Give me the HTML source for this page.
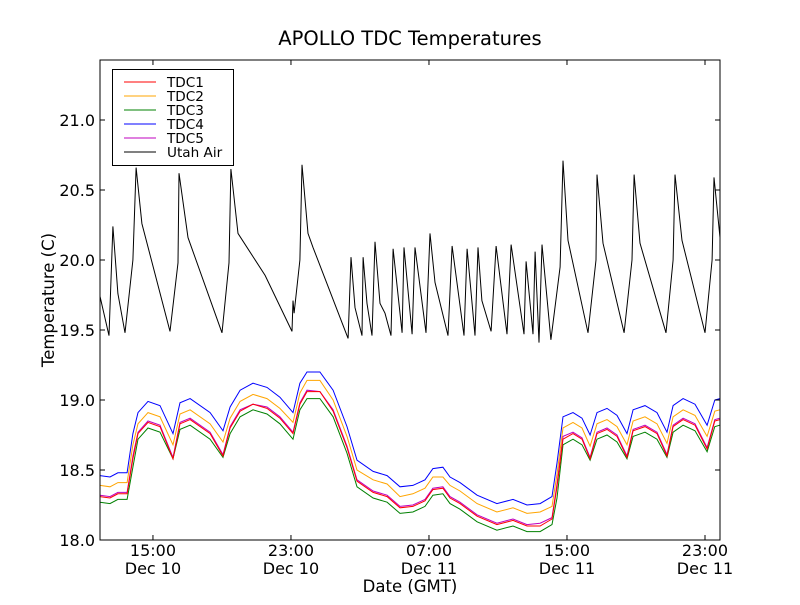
<!DOCTYPE html>
<html><head><meta charset="utf-8"><style>
body{margin:0;background:#fff;}
svg text{font-family:"DejaVu Sans","Liberation Sans",sans-serif;}
</style></head><body>
<svg id="chart" width="800" height="600" xmlns="http://www.w3.org/2000/svg">
<rect width="800" height="600" fill="#fff"/>
<text x="410" y="45" font-size="19.5" text-anchor="middle">APOLLO TDC Temperatures</text>
<text x="54" y="300" font-size="16.5" text-anchor="middle" transform="rotate(-90 54 300)">Temperature (C)</text>
<text x="410" y="592" font-size="16.5" text-anchor="middle">Date (GMT)</text>
<g id="plot"></g>
<g id="axes"></g>
<g id="legend"></g>
</svg>
<script>
const xTicks=[15,23,31,39,47];
const xTickTime=["15:00","23:00","07:00","15:00","23:00"];
const xTickDate=["Dec 10","Dec 10","Dec 11","Dec 11","Dec 11"];
const yTicks=[18.0,18.5,19.0,19.5,20.0,20.5,21.0];
const tdcTimes=[11.93,12.51,12.97,13.50,13.84,14.13,14.71,15.41,16.16,16.57,17.15,18.31,19.06,19.47,20.05,20.80,21.61,22.36,23.12,23.52,23.93,24.68,25.44,26.25,26.83,27.76,28.57,29.32,30.07,30.77,31.23,31.81,32.22,32.80,33.79,34.94,35.87,36.68,37.44,38.13,38.42,38.77,39.35,39.87,40.34,40.74,41.32,41.90,42.48,42.83,43.52,44.22,44.80,45.15,45.73,46.42,47.12,47.57,47.86];
const tdc4=[18.46,18.45,18.48,18.48,18.76,18.91,18.99,18.96,18.76,18.98,19.01,18.91,18.78,18.95,19.07,19.12,19.09,19.02,18.91,19.12,19.20,19.20,19.07,18.81,18.57,18.49,18.46,18.38,18.39,18.43,18.51,18.52,18.45,18.41,18.32,18.26,18.29,18.25,18.26,18.31,18.55,18.88,18.91,18.87,18.75,18.91,18.94,18.89,18.76,18.93,18.96,18.91,18.77,18.96,19.01,18.97,18.82,19.00,19.01];
const tdc2=[18.39,18.38,18.41,18.41,18.68,18.83,18.91,18.88,18.68,18.90,18.93,18.83,18.70,18.87,18.99,19.04,19.01,18.94,18.84,19.05,19.14,19.14,19.00,18.74,18.50,18.43,18.40,18.31,18.33,18.37,18.45,18.45,18.39,18.35,18.26,18.20,18.23,18.19,18.20,18.24,18.47,18.80,18.84,18.80,18.67,18.83,18.86,18.81,18.68,18.85,18.88,18.83,18.69,18.88,18.93,18.89,18.74,18.92,18.93];
const tdc1=[18.31,18.30,18.33,18.33,18.58,18.76,18.84,18.81,18.58,18.83,18.86,18.76,18.60,18.80,18.92,18.97,18.94,18.87,18.76,18.97,19.06,19.06,18.92,18.66,18.42,18.34,18.31,18.23,18.24,18.28,18.36,18.37,18.30,18.26,18.17,18.11,18.14,18.10,18.10,18.15,18.38,18.72,18.76,18.72,18.58,18.76,18.79,18.74,18.59,18.78,18.81,18.76,18.60,18.81,18.86,18.82,18.65,18.85,18.86];
const tdc5=[18.32,18.31,18.34,18.34,18.60,18.77,18.85,18.82,18.59,18.84,18.87,18.77,18.61,18.81,18.93,18.97,18.95,18.88,18.77,18.98,19.07,19.06,18.93,18.67,18.43,18.35,18.32,18.24,18.25,18.29,18.37,18.38,18.31,18.27,18.18,18.12,18.15,18.11,18.12,18.16,18.40,18.74,18.77,18.73,18.59,18.77,18.80,18.75,18.60,18.79,18.82,18.77,18.61,18.82,18.87,18.83,18.66,18.86,18.87];
const tdc3=[18.27,18.26,18.29,18.29,18.52,18.72,18.80,18.77,18.58,18.79,18.82,18.72,18.59,18.76,18.88,18.93,18.90,18.83,18.72,18.93,19.01,19.01,18.88,18.62,18.38,18.30,18.27,18.19,18.20,18.24,18.32,18.33,18.26,18.22,18.13,18.07,18.10,18.06,18.06,18.11,18.30,18.68,18.72,18.68,18.57,18.72,18.75,18.70,18.58,18.74,18.77,18.72,18.59,18.77,18.82,18.78,18.63,18.81,18.82];
const airTimes=[11.93,12.45,12.68,12.97,13.38,13.84,14.02,14.36,15.99,16.45,16.51,17.03,19.00,19.41,19.52,19.93,21.50,23.06,23.12,23.18,23.52,23.64,23.99,24.28,26.31,26.48,26.71,27.12,27.18,27.41,27.70,27.87,28.16,28.45,28.80,28.92,29.44,29.55,30.02,30.19,30.83,31.06,31.35,32.10,32.34,33.03,33.21,33.67,33.84,34.07,34.60,34.89,35.52,35.76,36.51,36.63,37.03,37.15,37.38,37.55,38.07,38.60,38.77,39.06,40.22,40.68,40.74,41.09,42.31,42.77,42.89,43.23,44.74,45.15,45.26,45.67,47.00,47.41,47.52,47.87];
const airTemps=[19.74,19.46,20.24,19.76,19.48,20.00,20.66,20.26,19.49,19.98,20.62,20.16,19.48,19.98,20.65,20.19,19.89,19.49,19.71,19.62,20.00,20.68,20.19,20.09,19.44,20.02,19.66,19.46,20.02,19.69,19.46,20.13,19.69,19.62,19.46,20.08,19.48,20.09,19.47,20.09,19.48,20.19,19.84,19.46,20.10,19.46,20.08,19.46,20.09,19.71,19.49,20.10,19.47,20.11,19.47,19.99,19.47,20.06,19.41,20.11,19.43,19.95,20.71,20.14,19.48,20.00,20.61,20.12,19.48,20.00,20.61,20.12,19.48,20.00,20.61,20.14,19.48,20.00,20.59,20.16];

const L=100,R=720,T=60,B=540,xMin=11.93,xMax=47.87,yMin=18,yMax=21.4286;
function xs(v){return L+(v-xMin)/(xMax-xMin)*(R-L);}
function ys(v){return B-(v-yMin)/(yMax-yMin)*(B-T);}
const NS="http://www.w3.org/2000/svg";
const plot=document.getElementById('plot'),axes=document.getElementById('axes'),leg=document.getElementById('legend');
function mk(tag,attrs,parent){const e=document.createElementNS(NS,tag);for(const k in attrs)e.setAttribute(k,attrs[k]);parent.appendChild(e);return e;}
function line(times,vals,color,name){
  const d=times.map((t,i)=>(i?'L':'M')+xs(t).toFixed(1)+' '+ys(vals[i]).toFixed(1)).join(' ');
  const p=mk('path',{d:d,fill:'none',stroke:color,'stroke-width':1},plot);
  
  
}
line(airTimes,airTemps,'#000','series-utah-air');
line(tdcTimes,tdc3,'#008000','series-tdc3');
line(tdcTimes,tdc5,'#bf00bf','series-tdc5');
line(tdcTimes,tdc1,'#ff0000','series-tdc1');
line(tdcTimes,tdc2,'#ffa500','series-tdc2');
line(tdcTimes,tdc4,'#0000ff','series-tdc4');

const frame=mk('rect',{x:L,y:T,width:R-L,height:B-T,fill:'none',stroke:'#000','stroke-width':1},axes);


yTicks.forEach(v=>{
  const y=ys(v);
  const t1=mk('line',{x1:L,x2:L+5,y1:y,y2:y,stroke:'#000'},axes);
  
  
  const t2=mk('line',{x1:R-5,x2:R,y1:y,y2:y,stroke:'#000'},axes);
  
  
  const tx=mk('text',{x:L-5,y:y+6,'font-size':16,'text-anchor':'end'},axes);
  tx.textContent=v.toFixed(1);
  
  
});
xTicks.forEach((v,i)=>{
  const x=xs(v);
  const t1=mk('line',{x1:x,x2:x,y1:B,y2:B-5,stroke:'#000'},axes);
  
  
  const t2=mk('line',{x1:x,x2:x,y1:T,y2:T+5,stroke:'#000'},axes);
  
  
  const a=mk('text',{x:x,y:556,'font-size':16,'text-anchor':'middle'},axes);
  a.textContent=xTickTime[i];
  
  
  const b=mk('text',{x:x,y:574,'font-size':16,'text-anchor':'middle'},axes);
  b.textContent=xTickDate[i];
  
  
});
const legNames=["TDC1","TDC2","TDC3","TDC4","TDC5","Utah Air"];
const legColors=["#ff0000","#ffa500","#008000","#0000ff","#bf00bf","#000"];
const lb=mk('rect',{x:112.5,y:69.5,width:121,height:96,fill:'#fff',stroke:'#000','stroke-width':1},leg);


legNames.forEach((n,i)=>{
  const y=82+i*14;
  const g=mk('g',{},leg);
  
  
  mk('line',{x1:124,x2:156,y1:y,y2:y,stroke:legColors[i],'stroke-width':1},g);
  const t=mk('text',{x:167,y:y+5,'font-size':13.6},g);
  t.textContent=n;
});
</script>
</body></html>
